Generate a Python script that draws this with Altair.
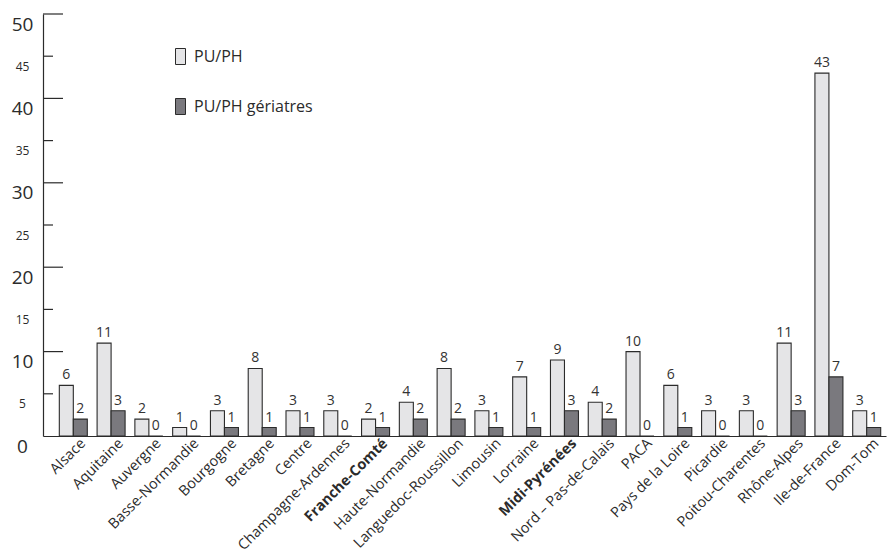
import altair as alt
import pandas as pd

regions = [
    "Alsace", "Aquitaine", "Auvergne", "Basse-Normandie", "Bourgogne",
    "Bretagne", "Centre", "Champagne-Ardennes", "Franche-Comté",
    "Haute-Normandie", "Languedoc-Roussillon", "Limousin", "Lorraine",
    "Midi-Pyrénées", "Nord – Pas-de-Calais", "PACA", "Pays de la Loire",
    "Picardie", "Poitou-Charentes", "Rhône-Alpes", "Ile-de-France", "Dom-Tom",
]
pu_ph = [6, 11, 2, 1, 3, 8, 3, 3, 2, 4, 8, 3, 7, 9, 4, 10, 6, 3, 3, 11, 43, 3]
pu_ph_geriatres = [2, 3, 0, 0, 1, 1, 1, 0, 1, 2, 2, 1, 1, 3, 2, 0, 1, 0, 0, 3, 7, 1]

series_names = ["PU/PH", "PU/PH gériatres"]
series_colors = ["#e5e5e7", "#7a797e"]
highlighted = ["Franche-Comté", "Midi-Pyrénées"]

major_ticks = [10, 20, 30, 40, 50]
minor_ticks = [5, 15, 25, 35, 45]
y_values = list(range(0, 55, 5))

FONT = "Open Sans"
INK = "#2b2b2b"

rows = []
for r, a, b in zip(regions, pu_ph, pu_ph_geriatres):
    rows.append({"region": r, "serie": series_names[0], "valeur": a})
    rows.append({"region": r, "serie": series_names[1], "valeur": b})
df = pd.DataFrame(rows)

bold_test = " || ".join(f"datum.value === '{h}'" for h in highlighted)

x_enc = alt.X(
    "region:N",
    sort=regions,
    scale=alt.Scale(paddingInner=0.259, paddingOuter=0.286, align=0.755),
    axis=alt.Axis(
        title=None,
        ticks=False,
        labelAngle=315,
        labelAlign="right",
        labelBaseline="middle",
        labelFont=FONT,
        labelFontSize=14.5,
        labelColor=INK,
        labelPadding=5,
        labelOffset=10,
        labelFontWeight={"condition": {"test": bold_test, "value": "bold"}, "value": "normal"},
        domainColor=INK,
        domainWidth=1.2,
    ),
)
y_enc = alt.Y(
    "valeur:Q",
    scale=alt.Scale(domain=[0, 50], nice=False),
    axis=alt.Axis(
        title=None,
        values=y_values,
        ticks=False,
        grid=False,
        labelFont=FONT,
        labelColor=INK,
        labelAlign="center",
        labelPadding=21,
        labelOffset=10,
        labelFontSize={"condition": {"test": "datum.value % 10 === 0", "value": 19}, "value": 12},
        domainColor=INK,
        domainWidth=1.2,
    ),
)
xoff = alt.XOffset("serie:N", sort=series_names)

bars = alt.Chart(df).mark_bar(stroke=INK, strokeWidth=1.1).encode(
    x=x_enc,
    y=y_enc,
    xOffset=xoff,
    fill=alt.Fill(
        "serie:N",
        sort=series_names,
        scale=alt.Scale(domain=series_names, range=series_colors),
        legend=alt.Legend(
            title=None,
            orient="none",
            legendX=129,
            legendY=34,
            direction="vertical",
            symbolType="M-0.625,-1H0.625V1H-0.625Z",
            symbolSize=256,
            symbolStrokeColor=INK,
            symbolStrokeWidth=1,
            labelFont=FONT,
            labelFontSize=16,
            labelColor=INK,
            labelOffset=5,
            rowPadding=29,
            padding=0,
        ),
    ),
)

labels = alt.Chart(df).mark_text(
    font=FONT, fontSize=14, color="#333333", baseline="bottom", dy=-3
).encode(
    x=alt.X("region:N", sort=regions),
    y="valeur:Q",
    xOffset=xoff,
    text="valeur:Q",
)

ticks_df = pd.DataFrame(
    {"v": major_ticks + minor_ticks, "kind": ["major"] * len(major_ticks) + ["minor"] * len(minor_ticks)}
)
major_rules = alt.Chart(ticks_df).transform_filter("datum.kind === 'major'").mark_rule(
    color=INK, strokeWidth=1.2
).encode(y="v:Q", x=alt.value(0), x2=alt.value(20))
minor_rules = alt.Chart(ticks_df).transform_filter("datum.kind === 'minor'").mark_rule(
    color=INK, strokeWidth=1.2
).encode(y="v:Q", x=alt.value(0), x2=alt.value(10))

chart = (
    alt.layer(bars, labels, major_rules, minor_rules)
    .properties(
        width=843,
        height=422,
        autosize=alt.AutoSizeParams(type="none"),
        padding={"left": 43, "top": 14, "right": 1, "bottom": 116},
        background="white",
    )
    .configure_view(stroke=None)
)

chart.save("out.html", embed_options={"renderer": "svg", "actions": False})
